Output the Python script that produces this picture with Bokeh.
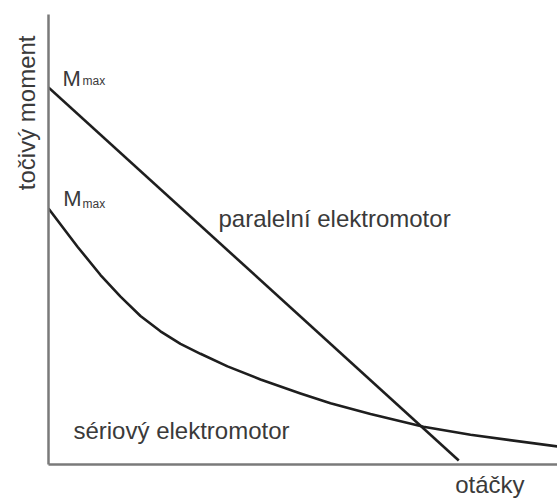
from bokeh.plotting import figure
from bokeh.models import Range1d, FixedTicker, Title
from bokeh.core.properties import value
from bokeh.embed import file_html
from bokeh.resources import INLINE

# speed (otáčky) 0-100, torque (točivý moment) 0-100, relative units
parallel_speed = [0.0, 80.6]
parallel_torque = [83.8, 0.9]

series_speed = [0.0, 5.70, 10.22, 14.15, 18.07, 22.00, 25.93, 29.86, 35.17, 41.65,
                49.51, 55.40, 63.26, 73.67, 82.91, 100.0]
series_torque = [56.9, 48.4, 42.1, 37.3, 33.0, 29.6, 26.8, 24.6, 21.8, 18.9,
                 15.8, 13.6, 11.2, 8.4, 6.6, 4.0]

x_label = "otáčky"
y_label = "točivý moment"
curve_names = ["paralelní elektromotor", "sériový elektromotor"]
mmax_main = ["M", "M"]
mmax_sub = ["max", "max"]

FONT = "Liberation Sans"
TXT = "#3a3a3a"

p = figure(width=557, height=502, output_backend="svg", toolbar_location=None,
           x_range=Range1d(0, 100), y_range=Range1d(0, 100), title=None,
           min_border_left=48, min_border_right=0, min_border_top=14, min_border_bottom=38)
p.background_fill_color = "white"
p.border_fill_color = "white"
p.outline_line_color = None
p.grid.visible = False

for ax in (p.xaxis[0], p.yaxis[0]):
    ax.ticker = FixedTicker(ticks=[])
    ax.major_label_text_font_size = "0px"
    ax.major_tick_line_color = None
    ax.minor_tick_line_color = None
    ax.axis_line_color = "#7a7a7a"
    ax.axis_line_width = 2.5

p.line(parallel_speed, parallel_torque, line_color="#1e1e1e", line_width=2.6)
p.line(series_speed, series_torque, line_color="#1e1e1e", line_width=2.6, line_join="round")

# curve labels
p.text(x=[33.4], y=[54.7], text=[curve_names[0]], text_font=value(FONT),
       text_font_size="24px", text_color=TXT, text_baseline="alphabetic", text_align="left")
p.text(x=[4.9], y=[7.6], text=[curve_names[1]], text_font=value(FONT),
       text_font_size="24px", text_color=TXT, text_baseline="alphabetic", text_align="left")

# M_max labels
p.text(x=[2.75, 2.9], y=[85.8, 59.1], text=mmax_main, text_font=value(FONT),
       text_font_size="22px", text_color=TXT, text_baseline="alphabetic", text_align="left")
p.text(x=[6.7, 6.7], y=[85.3, 58.0], text=mmax_sub, text_font=value(FONT),
       text_font_size="12px", text_color=TXT, text_baseline="alphabetic", text_align="left")

# axis titles
yt = Title(text=y_label, align="right", offset=21, text_font=FONT, text_font_size="24px",
           text_font_style="normal", text_color=TXT, standoff=17)
p.add_layout(yt, "left")
xt = Title(text=x_label, align="right", offset=33, text_font=FONT, text_font_size="24px",
           text_font_style="normal", text_color=TXT, standoff=8)
p.add_layout(xt, "below")

open("out.html", "w").write(file_html(p, INLINE))
